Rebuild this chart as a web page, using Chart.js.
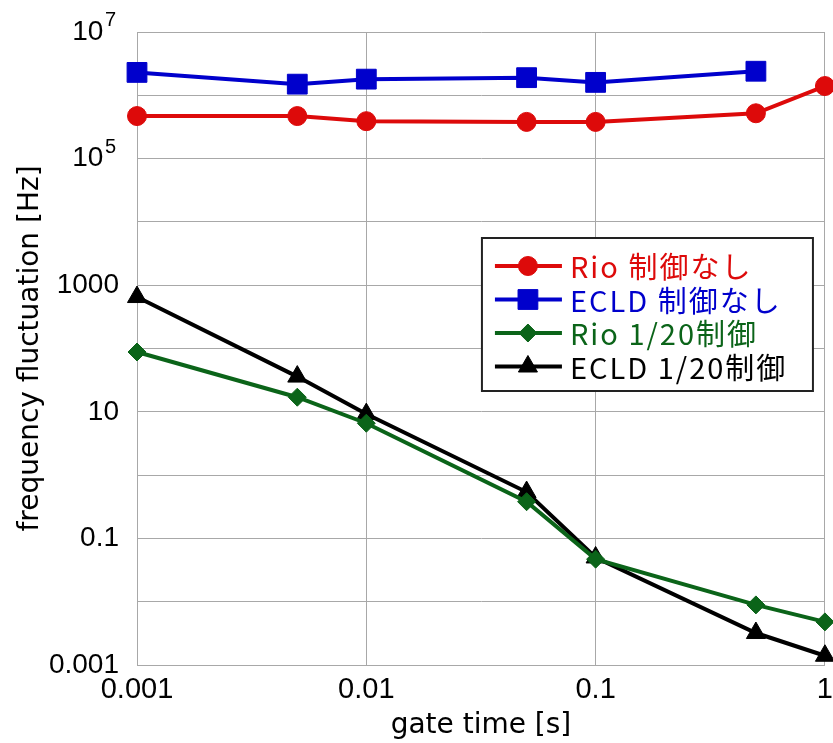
<!DOCTYPE html>
<html>
<head>
<meta charset="utf-8">
<script src="https://cdn.jsdelivr.net/npm/chart.js@4.4.0/dist/chart.umd.min.js"></script>
<style>
  body { margin: 0; background: #fff; }
  #wrap { width: 833px; height: 743px; }
</style>
</head>
<body>
<div id="wrap"><canvas id="fluctChart" width="833" height="743"></canvas></div>
<script>
// gate time [s]
const gateTimes = [0.001, 0.005, 0.01, 0.05, 0.1, 0.5, 1];

// frequency fluctuation [Hz]
const rioFree = [4.7e5, 4.7e5, 3.9e5, 3.8e5, 3.8e5, 5.2e5, 1.4e6];
const ecldFree = [2.3e6, 1.5e6, 1.8e6, 1.9e6, 1.6e6, 2.4e6, null];
const rioLocked = [88, 17, 6.6, 0.38, 0.047, 0.0089, 0.0048];
const ecldLocked = [650, 36, 9.2, 0.54, 0.05, 0.0032, 0.0014];

const seriesNames = ["Rio 制御なし", "ECLD 制御なし", "Rio 1/20制御", "ECLD 1/20制御"];

// tick labels (base + exponent, exponent drawn as superscript)
const xTickValues = [0.001, 0.01, 0.1, 1];
const xTickLabels = ["0.001", "0.01", "0.1", "1"];
const yTickValues = [1e-3, 1e-2, 1e-1, 1, 10, 100, 1e3, 1e4, 1e5, 1e6, 1e7];
const yTickLabels = ["0.001", "", "0.1", "", "10", "", "1000", "", "10", "", "10"];
const yTickExponents = ["", "", "", "", "", "", "", "", "5", "", "7"];

const toXY = (ys) => gateTimes.map((t, i) => ({ x: t, y: ys[i] }));
const yIndex = (v) => yTickValues.findIndex((t) => Math.abs(Math.log10(t) - Math.log10(v)) < 1e-6);

// superscript exponents next to the "10" labels
const superscripts = {
  id: "superscripts",
  afterDraw(chart) {
    const { ctx, chartArea } = chart;
    const y = chart.scales.y;
    ctx.save();
    ctx.fillStyle = "#000";
    ctx.font = '20px "Liberation Sans", sans-serif';
    ctx.textAlign = "left";
    ctx.textBaseline = "alphabetic";
    yTickValues.forEach((v, i) => {
      if (!yTickExponents[i]) return;
      ctx.fillText(yTickExponents[i], chartArea.left - 32, y.getPixelForValue(v) - 6);
    });
    ctx.restore();
  }
};

// legend drawn inside the plot area, like the original
const boxLegend = {
  id: "boxLegend",
  afterDraw(chart) {
    const { ctx, chartArea } = chart;
    const x = chartArea.right - 343;
    const y = chartArea.top + 206;
    const w = 331, h = 153;
    ctx.save();
    ctx.fillStyle = "#fff";
    ctx.fillRect(x, y, w, h);
    ctx.lineWidth = 2;
    ctx.strokeStyle = "#222";
    ctx.strokeRect(x, y, w, h);
    chart.data.datasets.forEach((ds, i) => {
      const cy = y + 28 + i * 33.5;
      ctx.strokeStyle = ds.borderColor;
      ctx.lineWidth = 4;
      ctx.beginPath();
      ctx.moveTo(x + 13, cy);
      ctx.lineTo(x + 80, cy);
      ctx.stroke();
      ctx.fillStyle = ds.borderColor;
      ctx.lineWidth = 1;
      Chart.helpers.drawPoint(ctx, {
        pointStyle: ds.pointStyle,
        radius: ds.pointRadius,
        borderWidth: 1,
        rotation: 0
      }, x + 46, cy);
      ctx.font = '29px "Noto Sans CJK JP", "Liberation Sans", sans-serif';
      ctx.letterSpacing = "2px";
      ctx.textBaseline = "middle";
      ctx.textAlign = "left";
      ctx.fillText(ds.label, x + 88, cy + 1);
      ctx.letterSpacing = "0px";
    });
    ctx.restore();
  }
};

const ctx = document.getElementById("fluctChart").getContext("2d");

new Chart(ctx, {
  type: "line",
  data: {
    datasets: [
      {
        label: seriesNames[0],
        data: toXY(rioFree),
        borderColor: "#dd0a0a",
        backgroundColor: "#dd0a0a",
        pointStyle: "circle",
        pointRadius: 9.5
      },
      {
        label: seriesNames[1],
        data: toXY(ecldFree),
        borderColor: "#0000cc",
        backgroundColor: "#0000cc",
        pointStyle: "rect",
        pointRadius: 14
      },
      {
        label: seriesNames[2],
        data: toXY(rioLocked),
        borderColor: "#0b6419",
        backgroundColor: "#0b6419",
        pointStyle: "rectRot",
        pointRadius: 9
      },
      {
        label: seriesNames[3],
        data: toXY(ecldLocked),
        borderColor: "#000000",
        backgroundColor: "#000000",
        pointStyle: "triangle",
        pointRadius: 11
      }
    ].map((d) => ({
      ...d,
      borderWidth: 4,
      pointBorderWidth: 1,
      pointBorderColor: d.borderColor,
      pointHoverRadius: d.pointRadius,
      tension: 0,
      spanGaps: false,
      clip: false
    }))
  },
  options: {
    responsive: false,
    animation: false,
    events: [],
    layout: {
      autoPadding: false,
      padding: { top: 32, right: 8, left: 0, bottom: 0 }
    },
    plugins: {
      legend: { display: false },
      tooltip: { enabled: false }
    },
    scales: {
      x: {
        type: "logarithmic",
        min: 0.001,
        max: 1,
        afterBuildTicks: (scale) => {
          scale.ticks = xTickValues.map((v) => ({ value: v }));
        },
        afterFit: (scale) => {
          scale.height = 78;
        },
        ticks: {
          autoSkip: false,
          maxRotation: 0,
          padding: 0,
          color: "#000",
          font: { family: "Liberation Sans", size: 29 },
          callback: (v) => xTickLabels[xTickValues.indexOf(v)]
        },
        grid: {
          color: "#a8a8a8",
          lineWidth: 1,
          drawTicks: true,
          tickLength: 8,
          tickColor: "rgba(0,0,0,0)"
        },
        border: { color: "#a8a8a8", width: 1 },
        title: {
          display: true,
          text: "gate time [s]",
          color: "#000",
          font: { family: "DejaVu Sans", size: 28 },
          padding: { top: 0, bottom: 0 }
        }
      },
      y: {
        type: "logarithmic",
        min: 0.001,
        max: 1e7,
        afterBuildTicks: (scale) => {
          scale.ticks = yTickValues.map((v) => ({ value: v }));
        },
        afterFit: (scale) => {
          scale.width = 137;
          scale.paddingTop = 0;
          scale.paddingBottom = 0;
        },
        ticks: {
          autoSkip: false,
          padding: 18,
          color: "#000",
          font: { family: "Liberation Sans", size: 28 },
          callback: (v) => {
            const i = yIndex(v);
            if (i < 0) return "";
            return yTickLabels[i] + (yTickExponents[i] ? "\u2007" : "");
          }
        },
        grid: { color: "#a8a8a8", lineWidth: 1, drawTicks: false },
        border: { color: "#a8a8a8", width: 1 },
        title: {
          display: true,
          text: "frequency fluctuation [Hz]",
          color: "#000",
          font: { family: "DejaVu Sans", size: 28 },
          padding: { top: 14, bottom: 0 }
        }
      }
    }
  },
  plugins: [boxLegend, superscripts]
});
</script>
</body>
</html>
